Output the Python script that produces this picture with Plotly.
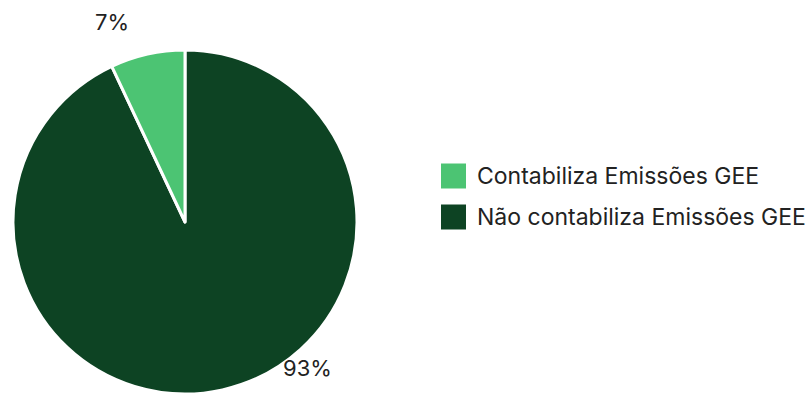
import plotly.graph_objects as go

labels = ["Contabiliza Emissões GEE", "Não contabiliza Emissões GEE"]
values = [7, 93]
colors = ["#4CC473", "#0D4323"]
pct_text = [f"{v}%" for v in values]

W, H = 805, 394
FONT = "Inter"

fig = go.Figure()
# drawn clockwise from 12 o'clock in reverse order so the small slice ends at the top
fig.add_trace(go.Pie(
    labels=labels[::-1], values=values[::-1], sort=False, direction="clockwise", rotation=0,
    marker=dict(colors=colors[::-1], line=dict(color="white", width=3)),
    textinfo="none", hoverinfo="label+percent", showlegend=False,
    domain=dict(x=[13 / W, 357 / W], y=[0, 344 / H]),
))

# percentage labels
label_pos = [(112, 22), (307, 368)]
for t, (px, py) in zip(pct_text, label_pos):
    fig.add_annotation(x=px / W, y=1 - py / H, xref="paper", yref="paper", text=t,
                       showarrow=False, font=dict(size=22, color="#222222", family=FONT),
                       xanchor="center", yanchor="middle")

# custom legend
leg_x, leg_y0, leg_dy, sw = 441, 176, 41, 25
for i, (lab, col) in enumerate(zip(labels, colors)):
    cy = leg_y0 + i * leg_dy
    fig.add_shape(type="rect", xref="paper", yref="paper",
                  x0=leg_x / W, x1=(leg_x + sw) / W,
                  y0=1 - (cy + sw / 2) / H, y1=1 - (cy - sw / 2) / H,
                  fillcolor=col, line=dict(width=0))
    fig.add_annotation(x=(leg_x + sw + 9) / W, y=1 - cy / H, xref="paper", yref="paper",
                       text=lab, showarrow=False, xanchor="left", yanchor="middle",
                       font=dict(size=23, color="#222222", family=FONT))

fig.update_layout(width=W, height=H, margin=dict(l=0, r=0, t=0, b=0),
                  paper_bgcolor="white", plot_bgcolor="white",
                  font=dict(family=FONT, color="#222222"))
fig.write_html("out.html")
